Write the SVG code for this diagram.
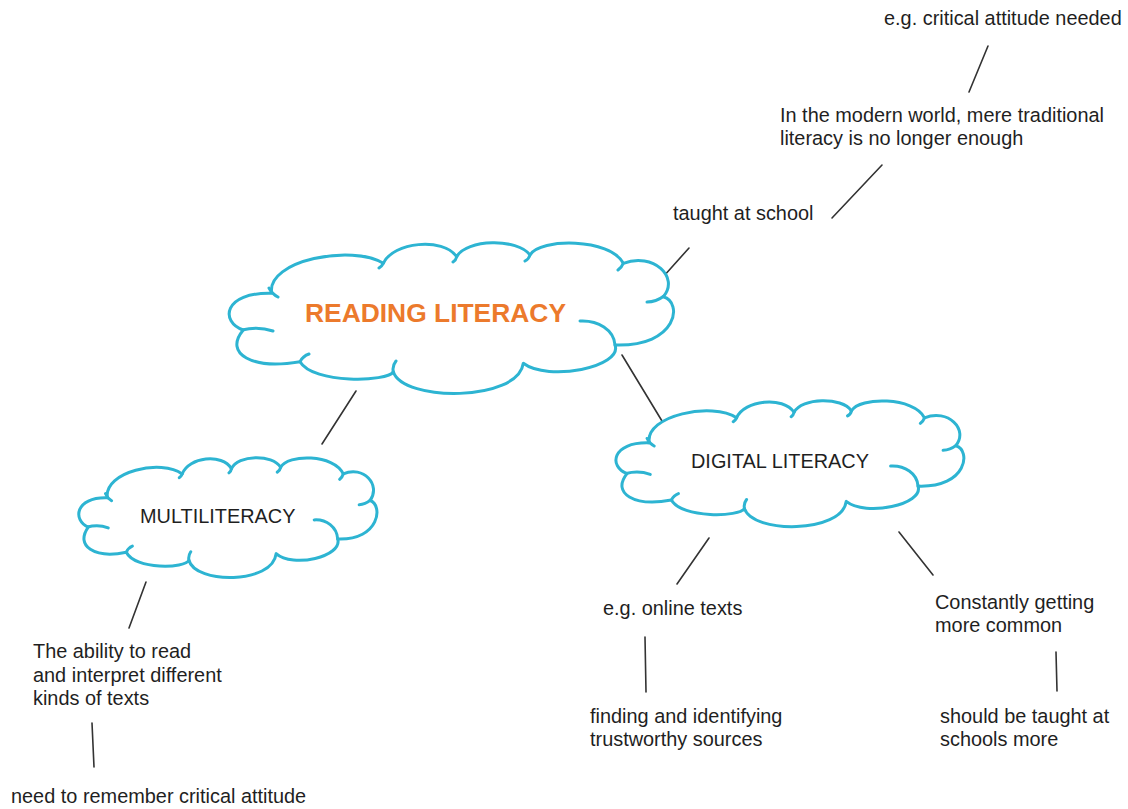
<svg xmlns="http://www.w3.org/2000/svg" xmlns:xlink="http://www.w3.org/1999/xlink" width="1128" height="809" viewBox="0 0 1128 809">
<style>
.cloud{fill:#ffffff;stroke:#2db4d2;stroke-width:3;stroke-linecap:round;stroke-linejoin:round}
.hook{fill:none;stroke:#2db4d2;stroke-width:3;stroke-linecap:round}
.t{font-family:"Liberation Sans",Arial,sans-serif;font-size:19.9px;fill:#1f1f1f}
.title{font-family:"Liberation Sans",Arial,sans-serif;font-size:26.4px;font-weight:bold;fill:#ec7a2c}
.conn line{stroke:#333333;stroke-width:1.6;stroke-linecap:round}
</style>
<defs>
<g id="cloudShape">
<path class="cloud" vector-effect="non-scaling-stroke" d="M43.7,51.3 C38,18 125,2 155.3,21.3 C165,0 215,-5 228.7,14.7 C238,-3 290,-4 302,13 C312,-4 382,-4 395.3,21.3 C425,10 452,35 435.3,54.7 C455,60 450,105 387,103 C395,125 320,140 295.3,121.3 C290,160 175,160 165.3,129.7 C160,140 85,142 72,119.7 C25,128 -5,112 15.3,88 C-8,80 -5,50 43.7,51.3 Z"/>
<path class="hook" vector-effect="non-scaling-stroke" d="M41,46 Q44,52 50,55 M14,88 Q30,84 45,89 M72,119.7 Q75,114 81,112 M165.3,129.7 Q164,124 168,119 M387,103 C386,88 370,78 352,79 M436,54 Q428,60 419,60 M395.3,21.3 Q394,25 390,28 M302,13 Q301,17 297,19 M228.7,14.7 Q228,18 225,20 M155.3,21.3 Q154,24 151,26"/>
</g>
</defs>
<g id="connectors" class="conn">
<line x1="988" y1="46" x2="969" y2="92"/>
<line x1="882" y1="165" x2="832" y2="218"/>
<line x1="689" y1="248" x2="663" y2="277"/>
<line x1="622" y1="355" x2="662" y2="421"/>
<line x1="356" y1="391" x2="322" y2="444"/>
<line x1="146" y1="582" x2="129" y2="628"/>
<line x1="92" y1="723" x2="94" y2="767"/>
<line x1="709" y1="538" x2="677" y2="584"/>
<line x1="645" y1="637" x2="646" y2="692"/>
<line x1="899" y1="532" x2="933" y2="575"/>
<line x1="1056" y1="652" x2="1057" y2="691"/>
</g>
<g id="reading-literacy">
<use xlink:href="#cloudShape" transform="translate(228,242)"/>
<text class="title" x="305" y="322">READING LITERACY</text>
</g>
<g id="digital-literacy">
<use xlink:href="#cloudShape" transform="translate(615,400) scale(0.783,0.836)"/>
<text class="t" x="691" y="468">DIGITAL LITERACY</text>
</g>
<g id="multiliteracy">
<use xlink:href="#cloudShape" transform="translate(78,457) scale(0.671,0.796)"/>
<text class="t" x="140" y="523">MULTILITERACY</text>
</g>
<g id="critical-attitude">
<text class="t" x="884" y="25">e.g. critical attitude needed</text>
</g>
<g id="modern-world">
<text class="t" x="780" y="122">In the modern world, mere traditional</text>
<text class="t" x="780" y="145">literacy is no longer enough</text>
</g>
<g id="taught-at-school">
<text class="t" x="673" y="220">taught at school</text>
</g>
<g id="ability">
<text class="t" x="33" y="658">The ability to read</text>
<text class="t" x="33" y="682">and interpret different</text>
<text class="t" x="33" y="705">kinds of texts</text>
</g>
<g id="remember">
<text class="t" x="11" y="803">need to remember critical attitude</text>
</g>
<g id="online-texts">
<text class="t" x="603" y="615">e.g. online texts</text>
</g>
<g id="finding">
<text class="t" x="590" y="723">finding and identifying</text>
<text class="t" x="590" y="746">trustworthy sources</text>
</g>
<g id="constantly">
<text class="t" x="935" y="609">Constantly getting</text>
<text class="t" x="935" y="632">more common</text>
</g>
<g id="should-be-taught">
<text class="t" x="940" y="723">should be taught at</text>
<text class="t" x="940" y="746">schools more</text>
</g>
</svg>
